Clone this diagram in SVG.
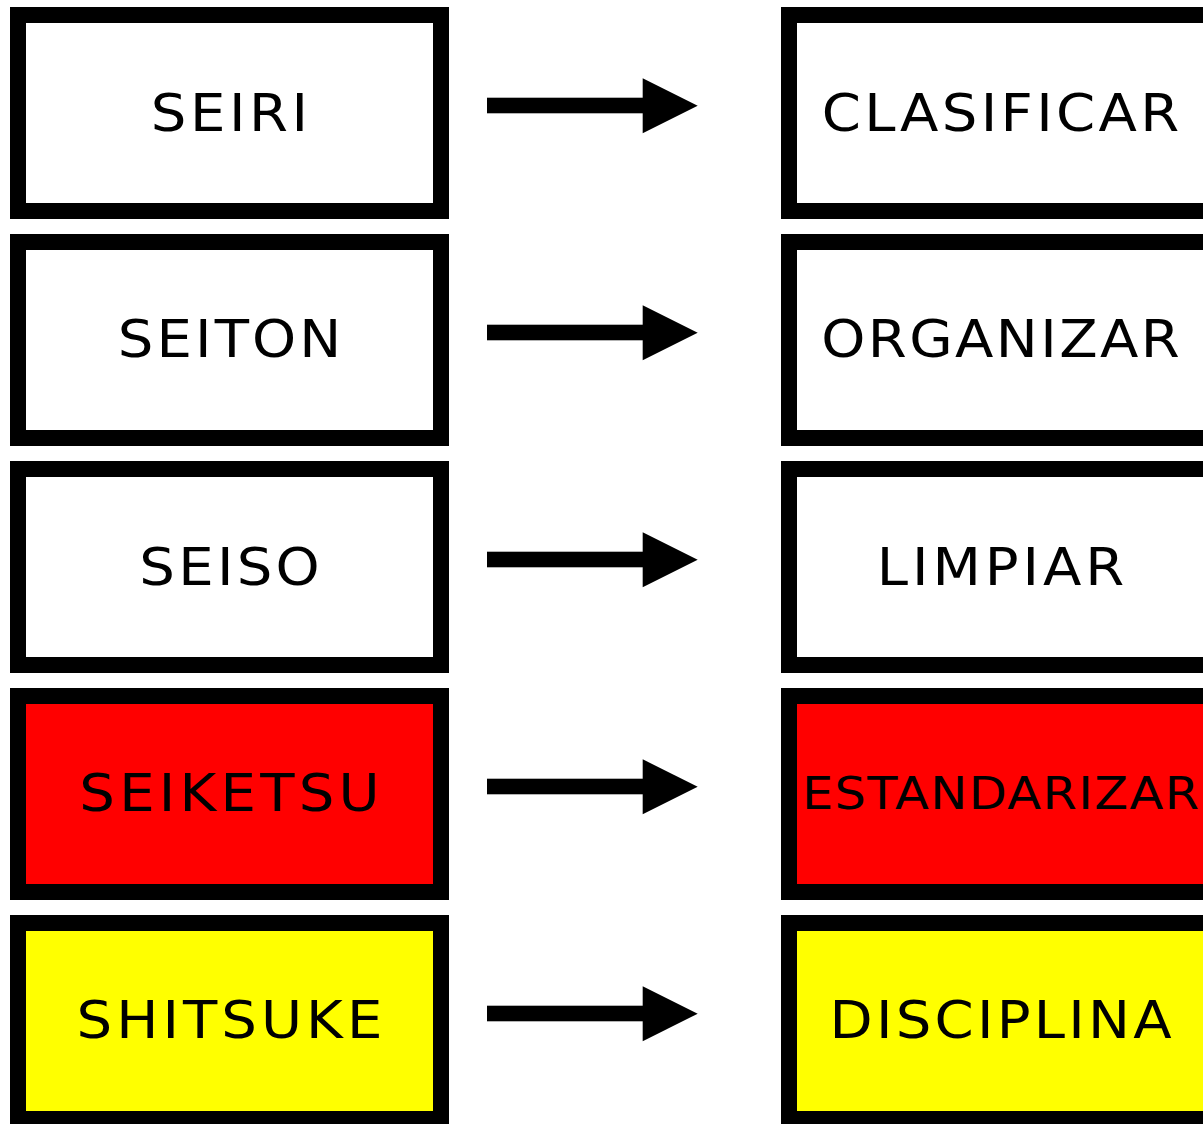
<svg xmlns="http://www.w3.org/2000/svg" xmlns:xlink="http://www.w3.org/1999/xlink" width="1203" height="1124" viewBox="0 0 1203 1124">
  <style>
    .box { stroke: #000; stroke-width: 16; }
    .w { fill: #fff; }
    .r { fill: #ff0000; }
    .y { fill: #ffff00; }
    .lbl { font-family: "DejaVu Sans", "Liberation Sans", sans-serif; font-size: 51px; fill: #000; text-anchor: middle; }
    .sm { font-size: 45px; }
  </style>
  <defs>
    <g id="arrow">
      <rect x="487" y="97.7" width="157" height="15.6" fill="#000"/>
      <polygon points="642.7,78.3 697.7,105.7 642.7,133.3" fill="#000"/>
    </g>
  </defs>
  <rect width="1203" height="1124" fill="#fff"/>
  <g id="connectors">
    <use xlink:href="#arrow" href="#arrow"/>
    <use xlink:href="#arrow" href="#arrow" transform="translate(0,227)"/>
    <use xlink:href="#arrow" href="#arrow" transform="translate(0,454)"/>
    <use xlink:href="#arrow" href="#arrow" transform="translate(0,681)"/>
    <use xlink:href="#arrow" href="#arrow" transform="translate(0,908)"/>
  </g>
  <g id="seiri"><rect class="box w" x="18" y="15" width="423" height="196"/><text class="lbl" transform="translate(229.5,0) scale(1.1,1)" x="0" y="131" textLength="143" lengthAdjust="spacing">SEIRI</text></g>
  <g id="seiton"><rect class="box w" x="18" y="242" width="423" height="196"/><text class="lbl" transform="translate(229.5,0) scale(1.1,1)" x="0" y="357.5" textLength="203" lengthAdjust="spacing">SEITON</text></g>
  <g id="seiso"><rect class="box w" x="18" y="469" width="423" height="196"/><text class="lbl" transform="translate(229.5,0) scale(1.1,1)" x="0" y="585" textLength="164" lengthAdjust="spacing">SEISO</text></g>
  <g id="seiketsu"><rect class="box r" x="18" y="696" width="423" height="196"/><text class="lbl" transform="translate(229.5,0) scale(1.1,1)" x="0" y="811.5" textLength="273" lengthAdjust="spacing">SEIKETSU</text></g>
  <g id="shitsuke"><rect class="box y" x="18" y="923" width="423" height="196"/><text class="lbl" transform="translate(229.5,0) scale(1.1,1)" x="0" y="1038.5" textLength="278" lengthAdjust="spacing">SHITSUKE</text></g>
  <g id="clasificar"><rect class="box w" x="789" y="15" width="423" height="196"/><text class="lbl" transform="translate(1000.5,0) scale(1.1,1)" x="0" y="131" textLength="325" lengthAdjust="spacing">CLASIFICAR</text></g>
  <g id="organizar"><rect class="box w" x="789" y="242" width="423" height="196"/><text class="lbl" transform="translate(1000.5,0) scale(1.1,1)" x="0" y="357.5" textLength="326" lengthAdjust="spacing">ORGANIZAR</text></g>
  <g id="limpiar"><rect class="box w" x="789" y="469" width="423" height="196"/><text class="lbl" transform="translate(1000.5,0) scale(1.1,1)" x="0" y="585" textLength="225" lengthAdjust="spacing">LIMPIAR</text></g>
  <g id="estandarizar"><rect class="box r" x="789" y="696" width="423" height="196"/><text class="lbl sm" transform="translate(1000.5,0) scale(1.1,1)" x="0" y="809.3" textLength="361" lengthAdjust="spacing">ESTANDARIZAR</text></g>
  <g id="disciplina"><rect class="box y" x="789" y="923" width="423" height="196"/><text class="lbl" transform="translate(1000.5,0) scale(1.1,1)" x="0" y="1038.5" textLength="311" lengthAdjust="spacing">DISCIPLINA</text></g>
</svg>
